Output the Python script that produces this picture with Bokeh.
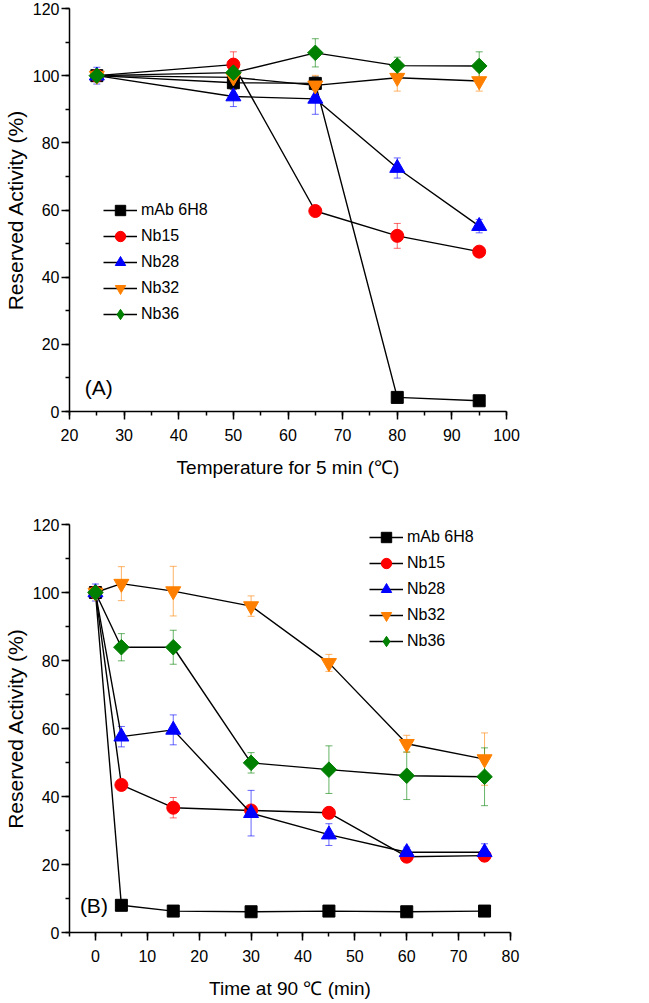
import numpy as np
from bokeh.plotting import figure
from bokeh.models import (ColumnDataSource, Whisker, TeeHead, SingleIntervalTicker,
                          Legend, LegendItem, Label, Range1d)
from bokeh.layouts import column
from bokeh.embed import file_html
from bokeh.resources import INLINE

# ---------------- data ----------------
series_names = ["mAb 6H8", "Nb15", "Nb28", "Nb32", "Nb36"]
colors = ["#000000", "#FF0000", "#0000FF", "#FF8000", "#008000"]
markers = ["square", "circle", "triangle", "inverted_triangle", "square"]
legend_markers = ["square", "circle", "triangle", "inverted_triangle", "diamond"]
sizes = [12, 13, 15, 15, 11]
angles = [0, 0, 0, 0, np.pi / 4]

# Panel A: temperature for 5 min
temp = [25, 50, 65, 80, 95]
a_mab = [100, 97.9, 97.7, 4.2, 3.2]
a_nb15 = [100, 103.3, 59.7, 52.3, 47.6]
a_nb28 = [100, 93.8, 93.1, 72.5, 55.2]
a_nb32 = [100, 99.5, 97.1, 99.4, 98.4]
a_nb36 = [100, 100.9, 106.8, 103.0, 102.9]
a_mab_err = [1, 2, 2, 1, 1]
a_nb15_err = [1, 3.8, 1, 3.7, 1]
a_nb28_err = [2.5, 3, 4.6, 3, 2]
a_nb32_err = [1.5, 2, 3, 4, 3]
a_nb36_err = [1, 2, 4.2, 2.5, 4.2]

# Panel B: time at 90 C
time = [0, 5, 15, 30, 45, 60, 75]
b_mab = [100, 8.0, 6.3, 6.1, 6.3, 6.1, 6.3]
b_nb15 = [100, 43.4, 36.7, 35.9, 35.2, 22.3, 22.6]
b_nb28 = [100, 57.6, 59.6, 35.1, 28.8, 23.6, 23.6]
b_nb32 = [100, 102.6, 100.4, 96.0, 79.3, 55.5, 51.0]
b_nb36 = [100, 83.9, 83.9, 49.9, 47.9, 46.1, 45.8]
b_mab_err = [1, 1, 1, 1, 1, 1, 1]
b_nb15_err = [1, 1, 3, 1.5, 1.5, 1, 1]
b_nb28_err = [2.5, 3, 4.4, 6.7, 3.2, 1.5, 2.5]
b_nb32_err = [1.5, 5, 7.3, 3, 2.5, 2.5, 7.7]
b_nb36_err = [1, 4, 5, 3, 7, 7, 8.5]

FONT = "Liberation Sans"


def make_panel(x, ys, errs, xr, x_label, letter, letter_xy, legend_loc,
               fw, fh, b_left, b_top, b_bottom, b_right):
    p = figure(frame_width=fw, frame_height=fh, output_backend="svg", toolbar_location=None,
               x_range=Range1d(*xr), y_range=Range1d(0, 120),
               min_border_left=b_left, min_border_right=b_right,
               min_border_top=b_top, min_border_bottom=b_bottom)
    p.outline_line_color = None
    p.xgrid.visible = False
    p.ygrid.visible = False

    p.xaxis.ticker = SingleIntervalTicker(interval=10, num_minor_ticks=2)
    p.yaxis.ticker = SingleIntervalTicker(interval=20, num_minor_ticks=2)
    for ax in (p.xaxis, p.yaxis):
        ax.axis_line_width = 1.5
        ax.major_tick_line_width = 1.5
        ax.minor_tick_line_width = 1.5
        ax.major_tick_out = 8
        ax.major_tick_in = 0
        ax.minor_tick_out = 4
        ax.minor_tick_in = 0
        ax.major_label_text_font = FONT
        ax.major_label_text_font_size = "16px"
        ax.major_label_text_color = "black"
        ax.axis_label_text_font = FONT
        ax.axis_label_text_font_style = "normal"
        ax.axis_label_text_color = "black"
    p.xaxis.axis_label_text_font_size = "19px"
    p.yaxis.axis_label_text_font_size = "21px"
    p.xaxis.axis_label = x_label
    p.yaxis.axis_label = "Reserved Activity (%)"
    p.xaxis.major_label_standoff = 9
    p.xaxis.axis_label_standoff = 13
    p.yaxis.major_label_standoff = 2
    p.yaxis.axis_label_standoff = 3

    items = []
    for name, y, e, c, m, lm, s, a in zip(series_names, ys, errs, colors, markers,
                                         legend_markers, sizes, angles):
        y = np.array(y, dtype=float)
        e = np.array(e, dtype=float)
        src = ColumnDataSource(dict(x=x, y=y, upper=y + e, lower=y - e))
        w = Whisker(source=src, base="x", upper="upper", lower="lower",
                    line_color=c, line_alpha=0.6, line_width=1,
                    upper_head=TeeHead(size=7, line_color=c, line_alpha=0.6, line_width=1),
                    lower_head=TeeHead(size=7, line_color=c, line_alpha=0.6, line_width=1),
                    level="underlay")
        p.add_layout(w)
        lr = p.line("x", "y", source=src, line_color="black", line_width=1.4)
        sr = p.scatter("x", "y", source=src, marker=m, size=s, angle=a,
                       fill_color=c, line_color=c)
        rs = [lr, sr]
        if lm != m:
            # legend-only marker (legend glyphs ignore rotation); NaN point draws nothing
            dr = p.scatter(x=[np.nan], y=[np.nan], marker=lm, size=s,
                           fill_color=c, line_color=c)
            rs = [lr, dr]
        items.append(LegendItem(label=name, renderers=rs))

    leg = Legend(items=items, location=legend_loc, background_fill_alpha=0,
                 border_line_alpha=0, padding=0, margin=0, spacing=0,
                 glyph_width=34, glyph_height=26, label_height=26,
                 label_standoff=4, label_text_font=FONT,
                 label_text_font_size="16px", label_text_color="black")
    p.add_layout(leg)

    p.add_layout(Label(x=letter_xy[0], y=letter_xy[1], text=letter, text_font=FONT,
                       text_font_size="21px", text_color="black",
                       text_baseline="middle", text_align="left"))
    return p


p1 = make_panel(temp, [a_mab, a_nb15, a_nb28, a_nb32, a_nb36],
                [a_mab_err, a_nb15_err, a_nb28_err, a_nb32_err, a_nb36_err],
                (20, 100), "Temperature for 5 min (\u2103)", "(A)", (22.8, 7.2),
                (34, 84), 437, 403, 68, 8, 81, 125)

p2 = make_panel(time, [b_mab, b_nb15, b_nb28, b_nb32, b_nb36],
                [b_mab_err, b_nb15_err, b_nb28_err, b_nb32_err, b_nb36_err],
                (-5, 80), "Time at 90 \u2103 (min)", "(B)", (-3.0, 7.9),
                (300, 278), 441, 408, 69, 32, 55, 125)

layout = column(p1, p2, spacing=0)
open("out.html", "w").write(file_html(layout, INLINE))
